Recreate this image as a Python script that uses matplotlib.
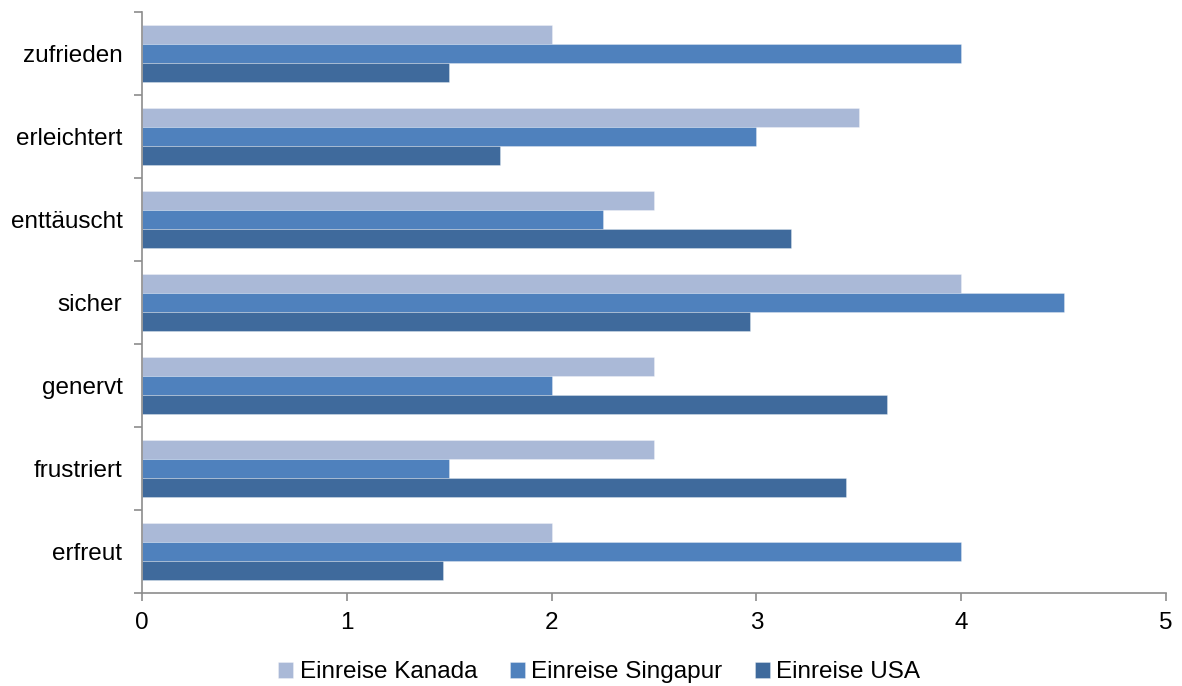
import matplotlib
matplotlib.use("Agg")
import matplotlib.pyplot as plt
import numpy as np

plt.rcParams['font.family'] = ['Liberation Sans', 'DejaVu Sans']

categories = ["erfreut", "frustriert", "genervt", "sicher", "enttäuscht", "erleichtert", "zufrieden"]
kanada = [2.0, 2.5, 2.5, 4.0, 2.5, 3.5, 2.0]
singapur = [4.0, 1.5, 2.0, 4.5, 2.25, 3.0, 4.0]
usa = [1.47, 3.44, 3.64, 2.97, 3.17, 1.75, 1.5]
series_names = ["Einreise Kanada", "Einreise Singapur", "Einreise USA"]
colors = ["#AAB9D7", "#4F81BD", "#3F6A9C"]

fig = plt.figure(figsize=(11.82, 6.86), dpi=100)
ax = fig.add_axes([0.120, 0.1356, 0.8665, 0.847])

y = np.arange(len(categories))
h = 0.226
for vals, off, col, name in zip([kanada, singapur, usa], [h, 0, -h], colors, series_names):
    ax.barh(y + off, vals, height=h, color=col, edgecolor=(1, 1, 1, 0.35),
            linewidth=0.6, label=name, zorder=2)

ax.set_xlim(0, 5)
ax.set_ylim(-0.5, len(categories) - 0.5)

spine_col = "#8C8C8C"
for s in ["top", "right"]:
    ax.spines[s].set_visible(False)
for s in ["left", "bottom"]:
    ax.spines[s].set_color(spine_col)
    ax.spines[s].set_linewidth(1.2)

fs = 17.5
ax.set_xticks(range(6))
ax.tick_params(axis="x", direction="out", length=6, color=spine_col, width=1.2,
               labelsize=fs, pad=8)
ax.set_yticks(np.arange(-0.5, len(categories), 1.0))
ax.set_yticklabels([])
ax.set_yticks(y, minor=True)
ax.set_yticklabels(categories, minor=True)
ax.tick_params(axis="y", which="major", direction="out", length=6, color=spine_col, width=1.2)
ax.tick_params(axis="y", which="minor", length=0, labelsize=fs, pad=14)

leg = fig.legend(loc="lower center", bbox_to_anchor=(0.507, -0.028), ncol=3, frameon=False,
                 fontsize=fs, handlelength=0.62, handleheight=0.62, handletextpad=0.25,
                 columnspacing=1.35)

fig.savefig("out.png", dpi=100)
